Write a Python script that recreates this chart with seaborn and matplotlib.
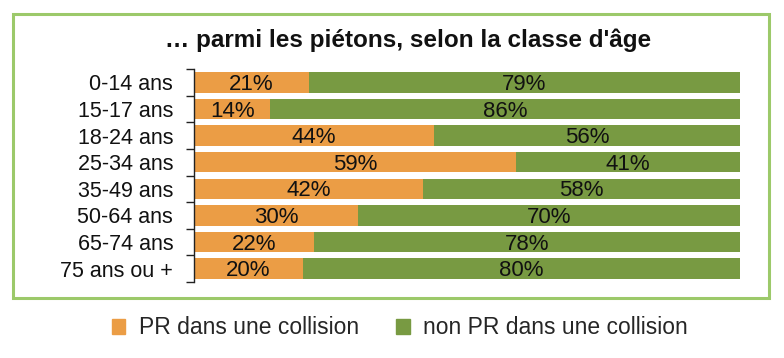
import seaborn as sns
import pandas as pd
import matplotlib.pyplot as plt
from matplotlib.patches import Patch, Rectangle

# data
ages = ['0-14 ans', '15-17 ans', '18-24 ans', '25-34 ans', '35-49 ans',
        '50-64 ans', '65-74 ans', '75 ans ou +']
pr = [21, 14, 44, 59, 42, 30, 22, 20]
non_pr = [79, 86, 56, 41, 58, 70, 78, 80]

orange = '#EB9D45'
green = '#789A42'

df = pd.DataFrame({'age': ages, 'pr': pr, 'non_pr': non_pr})
df['total'] = df['pr'] + df['non_pr']

sns.set_style('white')
plt.rcParams['font.family'] = ['Liberation Sans', 'DejaVu Sans']

fig = plt.figure(figsize=(7.84, 3.58), dpi=100)
ax = fig.add_axes([194 / 784, 76 / 358, 546 / 784, 213 / 358])

sns.barplot(data=df, y='age', x='total', color=green, orient='h',
            width=0.77, saturation=1, linewidth=0, ax=ax)
sns.barplot(data=df, y='age', x='pr', color=orange, orient='h',
            width=0.77, saturation=1, linewidth=0, ax=ax)

for i, row in df.iterrows():
    ax.text(row['pr'] / 2, i + 0.08, f"{row['pr']}%", ha='center', va='center',
            fontsize=16, color='#111111')
    ax.text(row['pr'] + row['non_pr'] / 2, i + 0.08, f"{row['non_pr']}%",
            ha='center', va='center', fontsize=16, color='#111111')

ax.set_xlim(0, 100)
ax.set_ylim(7.5, -0.5)
ax.set_xlabel('')
ax.set_ylabel('')
ax.set_xticks([])
for s in ['top', 'right', 'bottom']:
    ax.spines[s].set_visible(False)
ax.spines['left'].set_color('#222222')
ax.spines['left'].set_linewidth(1)
ax.set_yticks([i - 0.5 for i in range(9)], minor=True)
ax.tick_params(axis='y', which='major', length=0, labelsize=15.5, pad=15,
               labelcolor='#111111')
ax.tick_params(axis='y', which='minor', length=6, width=1, color='#222222', left=True)

fig.text(0.52, 1 - 40 / 358, "… parmi les piétons, selon la classe d'âge",
         ha='center', va='center', fontsize=17.5, fontweight='bold', color='#111111')

fig.patches.append(Rectangle((13 / 784, 60 / 358), 756 / 784, 284 / 358,
                             transform=fig.transFigure, fill=False,
                             edgecolor='#9CC96A', linewidth=2.2))

handles = [Patch(color=orange, label='PR dans une collision'),
           Patch(color=green, label='non PR dans une collision')]
fig.legend(handles=handles, loc='center', bbox_to_anchor=(0.51, 1 - 328 / 358),
           ncol=2, frameon=False, handlelength=0.6, handleheight=0.6,
           handletextpad=0.6, columnspacing=1.6,
           prop={'size': 16.5})

fig.savefig('out.png', dpi=100)
